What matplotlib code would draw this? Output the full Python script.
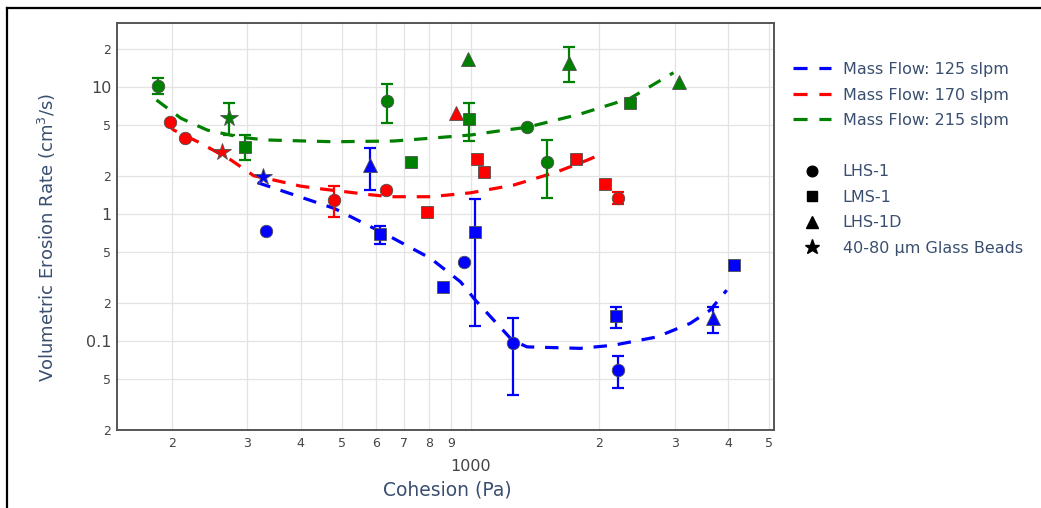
import numpy as np
import matplotlib
matplotlib.use('Agg')
import matplotlib.pyplot as plt
from matplotlib.lines import Line2D
from matplotlib.ticker import FixedLocator, FixedFormatter

# measured points (cohesion in Pa, erosion rate in cm3/s), nan = no error bar
blue_x = [332, 964, 1254, 2208, 614, 860, 1023, 2192, 4136, 581, 3687, 326]
blue_y = [0.734, 0.422, 0.096, 0.059, 0.692, 0.265, 0.726, 0.157, 0.397, 2.43, 0.152, 1.945]
blue_lo = [np.nan, np.nan, 0.0375, 0.0431, 0.58, np.nan, 0.131, 0.128, np.nan, 1.54, 0.115, np.nan]
blue_hi = [np.nan, np.nan, 0.153, 0.076, 0.80, np.nan, 1.31, 0.186, np.nan, 3.29, 0.186, np.nan]
blue_mat = ['LHS-1', 'LHS-1', 'LHS-1', 'LHS-1', 'LMS-1', 'LMS-1', 'LMS-1', 'LMS-1', 'LMS-1',
            'LHS-1D', 'LHS-1D', 'Glass']

red_x = [198, 215, 479, 633, 2211, 792, 1035, 1074, 1767, 2058, 922, 262]
red_y = [5.27, 3.99, 1.30, 1.54, 1.34, 1.04, 2.70, 2.15, 2.71, 1.71, 6.3, 3.09]
red_lo = [np.nan, np.nan, 0.952, np.nan, 1.20, np.nan, np.nan, np.nan, np.nan, np.nan, np.nan, np.nan]
red_hi = [np.nan, np.nan, 1.66, np.nan, 1.48, np.nan, np.nan, np.nan, np.nan, np.nan, np.nan, np.nan]
red_mat = ['LHS-1', 'LHS-1', 'LHS-1', 'LHS-1', 'LHS-1', 'LMS-1', 'LMS-1', 'LMS-1', 'LMS-1', 'LMS-1',
           'LHS-1D', 'Glass']

green_x = [185, 638, 1355, 1509, 297, 726, 991, 2362, 986, 1696, 3076, 272]
green_y = [10.1, 7.8, 4.82, 2.55, 3.39, 2.58, 5.60, 7.44, 16.5, 15.5, 11.0, 5.67]
green_lo = [8.76, 5.18, np.nan, 1.33, 2.66, np.nan, 3.76, np.nan, np.nan, 11.0, np.nan, 4.19]
green_hi = [11.7, 10.56, np.nan, 3.83, 4.16, np.nan, 7.52, np.nan, np.nan, 20.5, np.nan, 7.44]
green_mat = ['LHS-1', 'LHS-1', 'LHS-1', 'LHS-1', 'LMS-1', 'LMS-1', 'LMS-1', 'LMS-1',
             'LHS-1D', 'LHS-1D', 'LHS-1D', 'Glass']

# fitted trend curves
blue_fit_x = [317, 479, 638, 806, 947, 1026, 1250, 1355, 1805, 2161, 2729, 3264, 3631, 3975]
blue_fit_y = [1.77, 1.11, 0.684, 0.448, 0.293, 0.210, 0.102, 0.0902, 0.0878, 0.093, 0.108, 0.138, 0.175, 0.252]
red_fit_x = [194, 202, 234, 275, 311, 333, 400, 446, 583, 650, 806, 999, 1259, 1593, 1875, 2040]
red_fit_y = [5.18, 4.58, 3.60, 2.66, 2.0, 1.91, 1.66, 1.58, 1.42, 1.37, 1.37, 1.47, 1.69, 2.15, 2.66, 3.0]
green_fit_x = [184, 210, 242, 290, 333, 479, 661, 763, 1000, 1174, 1355, 1805, 2362, 2983]
green_fit_y = [7.9, 5.67, 4.58, 4.02, 3.83, 3.71, 3.76, 3.90, 4.19, 4.53, 4.82, 6.13, 8.15, 12.96]

flow_labels = ['Mass Flow: 125 slpm', 'Mass Flow: 170 slpm', 'Mass Flow: 215 slpm']
mat_labels = ['LHS-1', 'LMS-1', 'LHS-1D', '40-80 µm Glass Beads']

x_minor = [200, 300, 400, 500, 600, 700, 800, 900, 2000, 3000, 4000, 5000]
x_minor_lab = ['2', '3', '4', '5', '6', '7', '8', '9', '2', '3', '4', '5']
y_major = [0.1, 1, 10]
y_major_lab = ['0.1', '1', '10']
y_minor = [0.02, 0.05, 0.2, 0.5, 2, 5, 20]
y_minor_lab = ['2', '5', '2', '5', '2', '5', '2']

markers = {'LHS-1': ('o', 9), 'LMS-1': ('s', 8), 'LHS-1D': ('^', 9.5), 'Glass': ('*', 13)}
title_col = '#3a4f70'

fig = plt.figure(figsize=(10.41, 5.08), dpi=100)
ax = fig.add_axes([117 / 1041, 1 - 430 / 508, 657 / 1041, 407 / 508])

series = [
    ('#0000ff', blue_x, blue_y, blue_lo, blue_hi, blue_mat, blue_fit_x, blue_fit_y),
    ('#ff0000', red_x, red_y, red_lo, red_hi, red_mat, red_fit_x, red_fit_y),
    ('#008000', green_x, green_y, green_lo, green_hi, green_mat, green_fit_x, green_fit_y),
]

for col, xs, ys, lo, hi, mat, fx, fy in series:
    ax.plot(fx, fy, color=col, lw=2.3, dashes=(4.2, 3.4), zorder=3)
    xs, ys, lo, hi = map(np.array, (xs, ys, lo, hi))
    has_err = ~np.isnan(lo)
    ax.errorbar(xs[has_err], ys[has_err],
                yerr=[ys[has_err] - lo[has_err], hi[has_err] - ys[has_err]],
                fmt='none', ecolor=col, elinewidth=1.6, capsize=4, capthick=1.6, zorder=4)
    for m in markers:
        sel = np.array([k == m for k in mat])
        if sel.any():
            mk, ms = markers[m]
            ax.plot(xs[sel], ys[sel], ls='none', marker=mk, ms=ms, color=col,
                    mec='#505050', mew=0.6, zorder=5)

ax.set_xscale('log')
ax.set_yscale('log')
ax.set_xlim(148.7, 5128)
ax.set_ylim(0.02, 31.9)

ax.xaxis.set_major_locator(FixedLocator([1000]))
ax.xaxis.set_major_formatter(FixedFormatter(['1000']))
ax.xaxis.set_minor_locator(FixedLocator(x_minor))
ax.xaxis.set_minor_formatter(FixedFormatter(x_minor_lab))
ax.yaxis.set_major_locator(FixedLocator(y_major))
ax.yaxis.set_major_formatter(FixedFormatter(y_major_lab))
ax.yaxis.set_minor_locator(FixedLocator(y_minor))
ax.yaxis.set_minor_formatter(FixedFormatter(y_minor_lab))

ax.tick_params(axis='x', which='major', length=0, labelsize=11.5, pad=21, colors='#444444')
ax.tick_params(axis='x', which='minor', length=0, labelsize=9, pad=5, colors='#444444')
ax.tick_params(axis='y', which='major', length=0, labelsize=11.5, pad=4, colors='#444444')
ax.tick_params(axis='y', which='minor', length=0, labelsize=9, pad=4, colors='#444444')
ax.grid(True, which='both', color='#e3e3e3', lw=0.9, zorder=0)
ax.set_axisbelow(True)
for s in ax.spines.values():
    s.set_color('#555555')
    s.set_linewidth(1.4)

ax.set_xlabel('Cohesion (Pa)', fontsize=13.5, color=title_col)
ax.set_ylabel('Volumetric Erosion Rate (cm$^{3}$/s)', fontsize=13, color=title_col)
ax.xaxis.set_label_coords(0.502, -0.123)
ax.yaxis.set_label_coords(-0.09, 0.474)

# legend: flow-rate curves, a spacer, then material symbols
handles = [Line2D([], [], color=c, lw=2.3, dashes=(4.4, 3.7)) for c in ['#0000ff', '#ff0000', '#008000']]
handles.append(Line2D([], [], ls='none'))
for m in ['LHS-1', 'LMS-1', 'LHS-1D', 'Glass']:
    mk, ms = markers[m]
    handles.append(Line2D([], [], ls='none', marker=mk, ms=ms * 0.85, color='black'))
labels = flow_labels + [''] + mat_labels
leg = fig.legend(handles, labels, loc='upper left', bbox_to_anchor=(793 / 1041, 1 - 62 / 508),
                 frameon=False, borderpad=0, borderaxespad=0, handlelength=2.35,
                 handletextpad=0.75, labelspacing=0.66, fontsize=11.5, labelcolor=title_col)

# outer screenshot frame
fig.add_artist(Line2D([7 / 1041, 1], [1 - 8 / 508, 1 - 8 / 508], color='black', lw=1.6,
                      transform=fig.transFigure))
fig.add_artist(Line2D([7 / 1041, 7 / 1041], [0, 1 - 8 / 508], color='black', lw=1.6,
                      transform=fig.transFigure))

fig.savefig('out.png', dpi=100)
